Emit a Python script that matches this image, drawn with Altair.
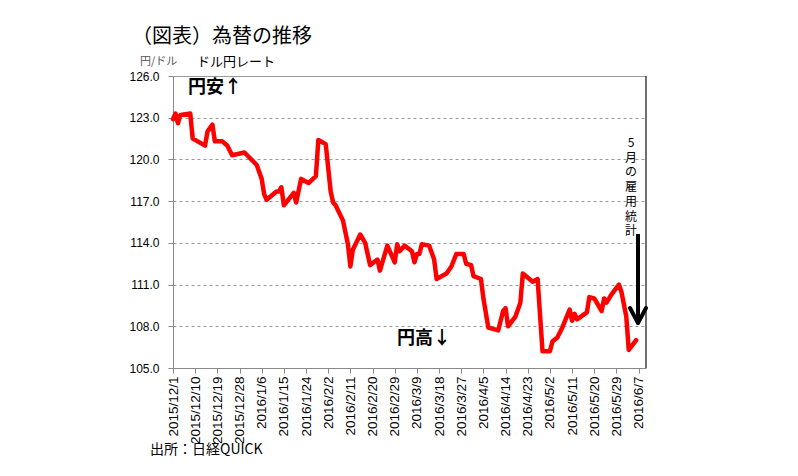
import altair as alt
import pandas as pd

# ---- data ----
dates = [
    "2015-12-01", "2015-12-02", "2015-12-03", "2015-12-04", "2015-12-08", "2015-12-09",
    "2015-12-11", "2015-12-14", "2015-12-15", "2015-12-17", "2015-12-18", "2015-12-21",
    "2015-12-23", "2015-12-25", "2015-12-30", "2016-01-04", "2016-01-06", "2016-01-07",
    "2016-01-08", "2016-01-12", "2016-01-13", "2016-01-14", "2016-01-15", "2016-01-19",
    "2016-01-20", "2016-01-22", "2016-01-25", "2016-01-28", "2016-01-29", "2016-02-01",
    "2016-02-03", "2016-02-04", "2016-02-05", "2016-02-08", "2016-02-10", "2016-02-11",
    "2016-02-12", "2016-02-15", "2016-02-17", "2016-02-19", "2016-02-22", "2016-02-23",
    "2016-02-26", "2016-02-29", "2016-03-01", "2016-03-02", "2016-03-04", "2016-03-07",
    "2016-03-08", "2016-03-09", "2016-03-10", "2016-03-11", "2016-03-14", "2016-03-16",
    "2016-03-17", "2016-03-21", "2016-03-23", "2016-03-25", "2016-03-28", "2016-03-29",
    "2016-03-31", "2016-04-01", "2016-04-04", "2016-04-05", "2016-04-07", "2016-04-11",
    "2016-04-13", "2016-04-14", "2016-04-15", "2016-04-18", "2016-04-20", "2016-04-21",
    "2016-04-25", "2016-04-27", "2016-04-29", "2016-05-02", "2016-05-03", "2016-05-05",
    "2016-05-07", "2016-05-10", "2016-05-11", "2016-05-12", "2016-05-13", "2016-05-17",
    "2016-05-18", "2016-05-20", "2016-05-23", "2016-05-24", "2016-05-25", "2016-05-27",
    "2016-05-30", "2016-05-31", "2016-06-02", "2016-06-03", "2016-06-06",
]
rates = [
    122.9, 123.3, 122.6, 123.2, 123.3, 121.5,
    121.3, 121.0, 122.0, 122.5, 121.3, 121.3,
    121.0, 120.3, 120.5, 119.6, 118.6, 117.5,
    117.1, 117.7, 117.7, 118.0, 116.7, 117.6,
    116.9, 118.6, 118.3, 118.8, 121.4, 121.1,
    117.7, 116.9, 116.7, 115.6, 113.9, 112.3,
    113.5, 114.6, 114.0, 112.4, 112.8, 112.0,
    113.8, 112.6, 113.9, 113.4, 113.8, 113.4,
    112.6, 113.2, 113.2, 113.9, 113.8, 112.8,
    111.4, 111.8, 112.3, 113.2, 113.2, 112.5,
    112.4, 111.6, 111.4, 110.0, 107.9, 107.7,
    109.1, 109.3, 108.0, 108.7, 109.7, 111.8,
    111.2, 111.4, 106.2, 106.2, 106.9, 107.2,
    107.9, 109.2, 108.4, 108.9, 108.5, 109.0,
    110.1, 110.0, 109.1, 110.0, 109.7, 110.3,
    111.0, 110.5, 108.7, 106.3, 107.0,
]
y_ticks = [105, 108, 111, 114, 117, 120, 123, 126]
x_ticks = [
    (2015, 12, 1), (2015, 12, 10), (2015, 12, 19), (2015, 12, 28), (2016, 1, 6),
    (2016, 1, 15), (2016, 1, 24), (2016, 2, 2), (2016, 2, 11), (2016, 2, 20),
    (2016, 2, 29), (2016, 3, 9), (2016, 3, 18), (2016, 3, 27), (2016, 4, 5),
    (2016, 4, 14), (2016, 4, 23), (2016, 5, 2), (2016, 5, 11), (2016, 5, 20),
    (2016, 5, 29), (2016, 6, 7),
]
x_start = (2015, 12, 1)
x_end = (2016, 6, 10)

title_text = "（図表）為替の推移"
unit_text = "円/ドル"
series_text = "ドル円レート"
up_text = "円安↑"
down_text = "円高↓"
note_text = "5月の雇用統計"
source_text = "出所：日経QUICK"

df = pd.DataFrame({"date": dates, "rate": rates})

W, H = 473, 292
JP = "Noto Sans CJK JP"
NUM = "Liberation Sans"


def dt(t):
    return alt.DateTime(year=t[0], month=t[1], date=t[2], utc=True)


x_scale = alt.Scale(type="utc", domain=[dt(x_start), dt(x_end)])
y_scale = alt.Scale(domain=[105, 126], nice=False, zero=False)

line = alt.Chart(df).mark_line(
    color="#FF0000", strokeWidth=4.5, strokeJoin="round", strokeCap="round"
).encode(
    x=alt.X(
        "date:T",
        scale=x_scale,
        axis=alt.Axis(
            values=[dt(t) for t in x_ticks],
            labelExpr="utcFormat(datum.value, '%Y/%-m/%-d')",
            labelAngle=270,
            labelFontSize=13.5,
            labelFont=NUM,
            labelColor="#000",
            labelOverlap=False,
            labelFlush=False,
            labelPadding=3,
            tickSize=5,
            tickColor="#888",
            domainColor="#888",
            grid=False,
            title=None,
        ),
    ),
    y=alt.Y(
        "rate:Q",
        scale=y_scale,
        axis=alt.Axis(
            values=y_ticks,
            format=".1f",
            labelFontSize=12,
            labelFont=NUM,
            labelColor="#000",
            labelPadding=9,
            tickSize=5,
            tickColor="#888",
            domainColor="#888",
            grid=True,
            gridColor="#999",
            gridDash={"condition": {"test": "datum.value == 126", "value": []}, "value": [3, 3]},
            gridOpacity={"condition": {"test": "datum.value == 105", "value": 0}, "value": 1},
            title=None,
        ),
    ),
)

one = pd.DataFrame({"k": [0]})


def label(text, x, y, size, align="left", baseline="middle", weight="normal", color="#000", **kw):
    return alt.Chart(one).mark_text(
        text=text, align=align, baseline=baseline, fontSize=size, font=JP,
        fontWeight=weight, color=color, **kw
    ).encode(x=alt.value(x), y=alt.value(y))


texts = [
    label(title_text, -41, -39, 20),
    label(unit_text, -33, -14, 11, color="#555"),
    label(series_text, 24, -14, 13),
    label(up_text, 15, 12, 18, weight="bold"),
    label(down_text, 224, 263, 18, weight="bold"),
    label(list(note_text), 458, 62, 12, align="center", baseline="top", lineHeight=14.7),
    label(source_text, -23, 374, 14),
]

arrow_shaft = alt.Chart(one).mark_rule(color="#000", strokeWidth=4).encode(
    x=alt.value(465), y=alt.value(158), y2=alt.value(244)
)
arrow_left = alt.Chart(one).mark_rule(color="#000", strokeWidth=4, strokeCap="round").encode(
    x=alt.value(457), y=alt.value(232), x2=alt.value(465), y2=alt.value(247)
)
arrow_right = alt.Chart(one).mark_rule(color="#000", strokeWidth=4, strokeCap="round").encode(
    x=alt.value(473), y=alt.value(232), x2=alt.value(465), y2=alt.value(247)
)
right_border = alt.Chart(one).mark_rule(color="#404040", strokeWidth=1.5).encode(
    x=alt.value(W), y=alt.value(0), y2=alt.value(H)
)

chart = alt.layer(
    line, right_border, arrow_shaft, arrow_left, arrow_right, *texts
).properties(
    width=W,
    height=H,
    padding={"left": 173, "top": 76, "right": 152, "bottom": 108},
    autosize=alt.AutoSizeParams(type="none"),
    background="#ffffff",
).configure_view(stroke=None)

chart.save("out.html", embed_options={"renderer": "svg", "actions": False})
